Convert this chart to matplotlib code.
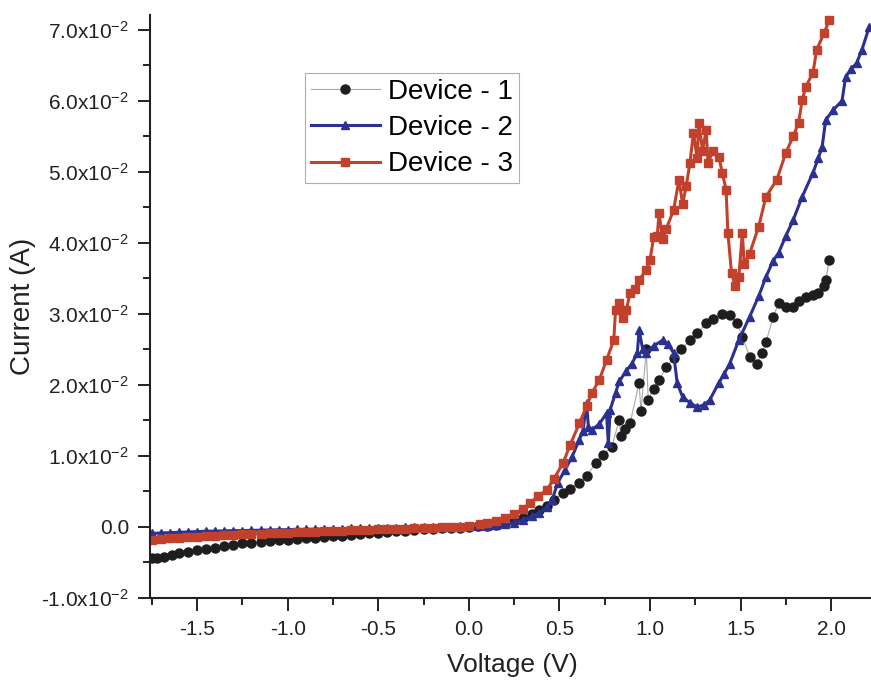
""" I-V curves of three devices """

import matplotlib.pyplot as plt
from matplotlib.ticker import FixedLocator, MultipleLocator, FuncFormatter

plt.rcParams['font.family'] = ['Liberation Sans', 'DejaVu Sans']
plt.rcParams['mathtext.fontset'] = 'custom'
plt.rcParams['mathtext.rm'] = 'Liberation Sans'
plt.rcParams['mathtext.it'] = 'Liberation Sans'
plt.rcParams['mathtext.bf'] = 'Liberation Sans'

# voltage (V) and current (mA) for each device
dev1_v = [-1.75, -1.72, -1.68, -1.64, -1.60, -1.55, -1.50, -1.45, -1.40, -1.35,
          -1.30, -1.25, -1.20, -1.15, -1.10, -1.05, -1.00, -0.95, -0.90, -0.85,
          -0.80, -0.75, -0.70, -0.65, -0.60, -0.55, -0.50, -0.45, -0.40, -0.35,
          -0.30, -0.25, -0.20, -0.15, -0.10, -0.05, 0.00, 0.05, 0.10, 0.15,
          0.20, 0.25, 0.30, 0.35, 0.39, 0.43, 0.47, 0.52, 0.56, 0.61,
          0.65, 0.70, 0.74, 0.79, 0.83, 0.84, 0.86, 0.89, 0.94, 0.95,
          0.98, 0.99, 1.02, 1.05, 1.09, 1.13, 1.17, 1.22, 1.26, 1.31,
          1.35, 1.40, 1.44, 1.48, 1.51, 1.55, 1.59, 1.62, 1.64, 1.68,
          1.71, 1.75, 1.79, 1.82, 1.86, 1.90, 1.93, 1.96, 1.97, 1.99]
dev1_i = [-4.3, -4.4, -4.2, -3.9, -3.7, -3.5, -3.3, -3.1, -2.9, -2.7,
          -2.5, -2.3, -2.2, -2.1, -2.0, -1.9, -1.8, -1.7, -1.6, -1.5,
          -1.4, -1.3, -1.2, -1.1, -1.0, -0.9, -0.8, -0.7, -0.6, -0.5,
          -0.4, -0.35, -0.3, -0.2, -0.15, -0.1, 0.0, 0.1, 0.2, 0.35,
          0.5, 0.8, 1.2, 1.8, 2.4, 3.0, 3.8, 4.8, 5.4, 6.2,
          7.2, 9.0, 10.2, 11.3, 15.1, 12.8, 13.8, 14.6, 20.3, 16.3,
          25.0, 17.9, 19.5, 20.7, 22.5, 23.8, 25.0, 26.3, 27.3, 28.7,
          29.3, 30.0, 29.8, 28.7, 26.8, 24.0, 23.0, 24.5, 26.0, 29.6,
          31.5, 31.0, 31.0, 31.8, 32.4, 32.6, 33.0, 34.0, 34.8, 37.6]

dev2_v = [-1.75, -1.70, -1.65, -1.60, -1.55, -1.50, -1.45, -1.40, -1.35, -1.30,
          -1.25, -1.20, -1.15, -1.10, -1.05, -1.00, -0.95, -0.90, -0.85, -0.80,
          -0.75, -0.70, -0.65, -0.60, -0.55, -0.50, -0.45, -0.40, -0.35, -0.30,
          -0.25, -0.20, -0.15, -0.10, -0.05, 0.00, 0.05, 0.10, 0.15, 0.20,
          0.25, 0.30, 0.35, 0.39, 0.43, 0.46, 0.49, 0.53, 0.57,
          0.61, 0.63, 0.65, 0.66, 0.68, 0.72, 0.76, 0.77, 0.78, 0.81,
          0.83, 0.87, 0.90, 0.93, 0.94, 0.96, 0.98, 1.02, 1.07, 1.10,
          1.13, 1.15, 1.18, 1.22, 1.26, 1.30, 1.33, 1.38, 1.41, 1.44,
          1.49, 1.55, 1.60, 1.64, 1.68, 1.71, 1.75, 1.79, 1.84, 1.90,
          1.93, 1.95, 1.97, 2.01, 2.06, 2.08, 2.11, 2.14, 2.17, 2.21]
dev2_i = [-0.9, -0.85, -0.8, -0.75, -0.7, -0.65, -0.6, -0.58, -0.55, -0.52,
          -0.5, -0.48, -0.45, -0.42, -0.4, -0.38, -0.35, -0.32, -0.3, -0.28,
          -0.25, -0.22, -0.2, -0.18, -0.15, -0.12, -0.1, -0.08, -0.05, -0.03,
          0.0, 0.0, 0.02, 0.05, 0.08, 0.1, 0.15, 0.2, 0.3, 0.4,
          0.6, 1.0, 1.5, 2.0, 2.8, 3.8, 6.2, 8.0, 9.9,
          12.3, 13.5, 17.5, 14.1, 13.7, 14.5, 16.0, 11.8, 16.5, 18.9,
          20.5, 22.0, 23.0, 24.5, 27.7, 25.0, 24.5, 25.5, 26.3, 25.8,
          24.5, 20.3, 18.3, 17.5, 16.9, 17.2, 17.9, 20.3, 21.6, 23.0,
          26.3, 29.6, 32.5, 35.2, 37.5, 38.6, 41.0, 43.2, 46.5, 49.9,
          52.0, 53.5, 57.3, 58.7, 60.0, 63.4, 64.5, 65.3, 67.2, 70.4]

dev3_v = [-1.75, -1.70, -1.65, -1.60, -1.55, -1.50, -1.45, -1.40, -1.35, -1.30,
          -1.25, -1.20, -1.15, -1.10, -1.05, -1.00, -0.95, -0.90, -0.85, -0.80,
          -0.75, -0.70, -0.65, -0.60, -0.55, -0.50, -0.45, -0.40, -0.35, -0.30,
          -0.25, -0.20, -0.15, -0.10, -0.05, 0.00, 0.06,
          0.10, 0.15, 0.20, 0.25, 0.30, 0.34, 0.38, 0.43, 0.47, 0.52,
          0.56, 0.61, 0.65, 0.68, 0.72, 0.76, 0.80, 0.81, 0.83, 0.85,
          0.87, 0.89, 0.92, 0.94, 0.98, 1.00, 1.02, 1.04, 1.05, 1.07,
          1.09, 1.13, 1.16, 1.18, 1.20, 1.22, 1.24, 1.26, 1.27, 1.29,
          1.31, 1.32, 1.35, 1.38, 1.40, 1.42, 1.43, 1.45, 1.47, 1.49,
          1.51, 1.52, 1.55, 1.60, 1.64, 1.70, 1.75, 1.79, 1.82, 1.84,
          1.86, 1.90, 1.92, 1.96, 1.99]
dev3_i = [-1.8, -1.7, -1.6, -1.5, -1.45, -1.35, -1.3, -1.2, -1.15, -1.1,
          -1.05, -1.0, -0.95, -0.9, -0.85, -0.8, -0.75, -0.7, -0.65, -0.6,
          -0.55, -0.5, -0.45, -0.4, -0.38, -0.35, -0.32, -0.3, -0.25, -0.2,
          -0.15, -0.1, -0.05, 0.0, 0.05, 0.1, 0.4,
          0.6, 0.9, 1.3, 1.8, 2.6, 3.4, 4.3, 5.2, 6.8, 9.0,
          11.6, 14.6, 17.0, 18.9, 20.7, 23.5, 26.3, 30.6, 31.5, 29.5,
          30.6, 33.0, 33.5, 34.8, 36.2, 37.6, 40.8, 41.0, 44.2, 40.5,
          42.0, 44.6, 48.9, 45.5, 48.0, 51.2, 55.5, 52.0, 56.9, 53.0,
          55.9, 51.3, 53.0, 52.1, 49.8, 47.5, 41.4, 35.8, 34.0, 35.2,
          41.4, 37.0, 38.5, 42.3, 46.5, 48.9, 52.7, 55.0, 56.9, 60.1,
          62.0, 64.0, 67.2, 69.5, 71.4]

y_ticks = [-0.01, 0.0, 0.01, 0.02, 0.03, 0.04, 0.05, 0.06, 0.07]
x_ticks = [-1.5, -1.0, -0.5, 0.0, 0.5, 1.0, 1.5, 2.0]


def amps(values):
    return [v / 1000 for v in values]


def sci_label(y, _pos):
    if abs(y) < 1e-9:
        return '0.0'
    return '%.1fx10$^{-2}$' % (y * 100)


fig = plt.figure(figsize=(8.71, 6.82), dpi=100)
ax = fig.add_axes([150 / 871, 84 / 682, 721 / 871, 583 / 682])

ax.plot(dev1_v, amps(dev1_i), color='#a8a8a8', lw=0.8, marker='o',
        ms=6.5, mfc='#1e1e1e', mec='#1e1e1e', label='Device - 1')
ax.plot(dev2_v, amps(dev2_i), color='#2b3190', lw=2.2, marker='^',
        ms=6.0, mfc='#2b3190', mec='#2b3190', label='Device - 2')
ax.plot(dev3_v, amps(dev3_i), color='#c2412d', lw=2.2, marker='s',
        ms=5.5, mfc='#c2412d', mec='#c2412d', label='Device - 3')

ax.set_xlim(-1.76, 2.22)
ax.set_ylim(-0.01, 0.0721)

ax.xaxis.set_major_locator(FixedLocator(x_ticks))
ax.xaxis.set_minor_locator(MultipleLocator(0.25))
ax.yaxis.set_major_locator(FixedLocator(y_ticks))
ax.yaxis.set_minor_locator(MultipleLocator(0.005))
ax.xaxis.set_major_formatter(FuncFormatter(lambda x, _p: '%.1f' % x))
ax.yaxis.set_major_formatter(FuncFormatter(sci_label))

ax.tick_params(which='major', direction='out', length=9, width=1.4,
               labelsize=15, color='#222222', labelcolor='#222222')
ax.tick_params(axis='x', which='major', pad=7)
ax.tick_params(axis='y', which='major', pad=6)
ax.tick_params(which='minor', direction='out', length=5, width=1.4,
               color='#222222')

for side in ('top', 'right'):
    ax.spines[side].set_visible(False)
for side in ('left', 'bottom'):
    ax.spines[side].set_linewidth(1.5)
    ax.spines[side].set_color('#222222')

ax.set_xlabel('Voltage (V)', fontsize=19, color='#222222')
ax.set_ylabel('Current (A)', fontsize=20, color='#222222')
ax.xaxis.set_label_coords(0.503, -0.094)
ax.yaxis.set_label_coords(-0.158, 0.5)

leg = ax.legend(loc='upper left', bbox_to_anchor=(0.215, 0.9),
                fontsize=20, frameon=True, fancybox=False, numpoints=1,
                handlelength=2.5, handletextpad=0.3, labelspacing=0.37,
                borderpad=0.2, borderaxespad=0.0)
leg.get_frame().set_edgecolor('#9a9aa8')
leg.get_frame().set_linewidth(0.8)

plt.savefig('out.png', dpi=100)
